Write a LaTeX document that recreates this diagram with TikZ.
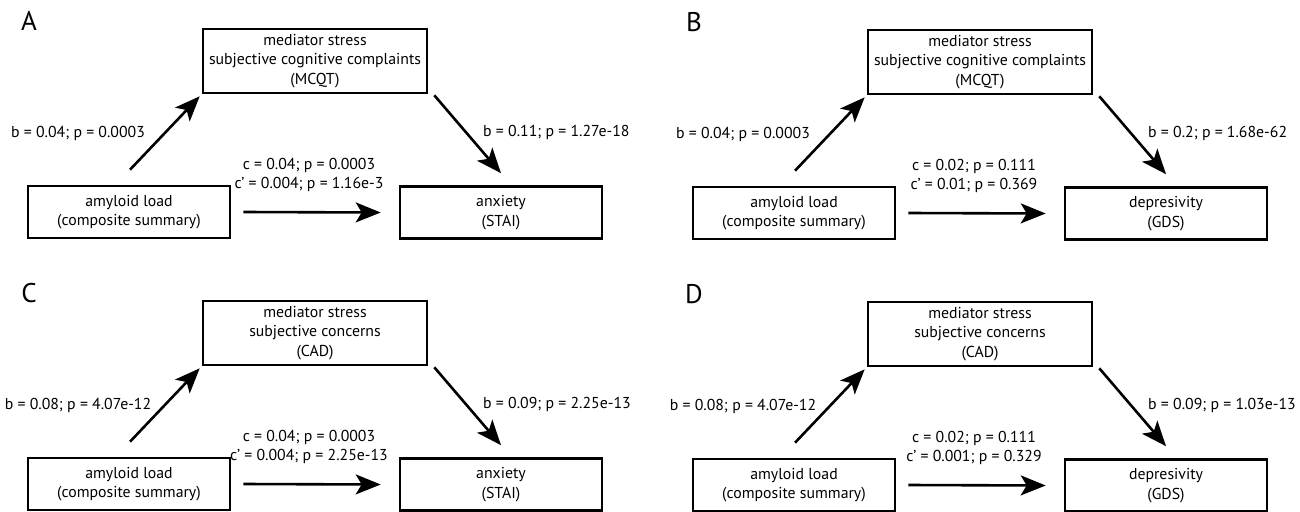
\documentclass[tikz,border=0pt]{standalone}
\usepackage{fontspec}
\setmainfont{PT Sans}
\usetikzlibrary{arrows.meta}
\begin{document}
\begin{tikzpicture}[x=1pt,y=-1pt,
  txt/.style={font=\fontsize{15.8}{19.5}\selectfont},
  box/.style={txt, draw, line width=2.6pt, align=center, inner sep=0pt},
  medbox/.style={box, minimum width=224pt, minimum height=64pt},
  sidebox/.style={box, minimum width=202pt, minimum height=52pt},
  lbl/.style={txt, inner sep=0pt},
  letter/.style={font=\fontsize{27}{27}\selectfont, inner sep=0pt},
  arr/.style={line width=2.6pt, -{Stealth[length=25pt,width=20pt,inset=6pt]}}]
\useasboundingbox (0,0) rectangle (1300,511);

% ---------------- Panel A ----------------
\begin{scope}
\node[letter] (aL) at (29,21) {A};
\node[medbox] (aM) at (315,61) {mediator stress\\subjective cognitive complaints\\(MCQT)};
\node[sidebox] (aX) at (129,212) {amyloid load\\(composite summary)};
\node[sidebox] (aY) at (501,212.5) {anxiety\\(STAI)};
\node[lbl, anchor=base] (ab1) at (78,137) {b = 0.04; p = 0.0003};
\node[lbl, anchor=base west] (ab2) at (483,136) {b = 0.11; p = 1.27e-18};
\node[lbl, anchor=base] (ac1) at (309,169.5) {c = 0.04; p = 0.0003};
\node[lbl, anchor=base] (ac2) at (309,188.5) {c’ = 0.004; p = 1.16e-3};
\draw[arr] ([shift={(1,-15)}]aX.north) -- ([shift={(-2,2)}]aM.south west);
\draw[arr] ([shift={(6,1)}]aM.south east) -- ([shift={(0,-12)}]aY.north);
\draw[arr] ([xshift=12pt]aX.east) -- ([xshift=-18pt]aY.west);
\end{scope}

% ---------------- Panel B ----------------
\begin{scope}[shift={(665,1)}]
\node[letter] (bL) at (29,21) {B};
\node[medbox] (bM) at (315,61) {mediator stress\\subjective cognitive complaints\\(MCQT)};
\node[sidebox] (bX) at (129,212) {amyloid load\\(composite summary)};
\node[sidebox] (bY) at (501,212.5) {depresivity\\(GDS)};
\node[lbl, anchor=base] (bb1) at (78,137) {b = 0.04; p = 0.0003};
\node[lbl, anchor=base west] (bb2) at (483,136) {b = 0.2; p = 1.68e-62};
\node[lbl, anchor=base] (bc1) at (309,169.5) {c = 0.02; p = 0.111};
\node[lbl, anchor=base] (bc2) at (309,188.5) {c’ = 0.01; p = 0.369};
\draw[arr] ([shift={(1,-15)}]bX.north) -- ([shift={(-2,2)}]bM.south west);
\draw[arr] ([shift={(6,1)}]bM.south east) -- ([shift={(0,-12)}]bY.north);
\draw[arr] ([xshift=12pt]bX.east) -- ([xshift=-18pt]bY.west);
\end{scope}

% ---------------- Panel C ----------------
\begin{scope}[shift={(0,272)}]
\node[letter] (cL) at (29,21) {C};
\node[medbox] (cM) at (315,61) {mediator stress\\subjective concerns\\(CAD)};
\node[sidebox] (cX) at (129,212) {amyloid load\\(composite summary)};
\node[sidebox] (cY) at (501,212.5) {anxiety\\(STAI)};
\node[lbl, anchor=base] (cb1) at (78,137) {b = 0.08; p = 4.07e-12};
\node[lbl, anchor=base west] (cb2) at (483,136) {b = 0.09; p = 2.25e-13};
\node[lbl, anchor=base] (cc1) at (309,169.5) {c = 0.04; p = 0.0003};
\node[lbl, anchor=base] (cc2) at (309,188.5) {c’ = 0.004; p = 2.25e-13};
\draw[arr] ([shift={(1,-15)}]cX.north) -- ([shift={(-2,2)}]cM.south west);
\draw[arr] ([shift={(6,1)}]cM.south east) -- ([shift={(0,-12)}]cY.north);
\draw[arr] ([xshift=12pt]cX.east) -- ([xshift=-18pt]cY.west);
\end{scope}

% ---------------- Panel D ----------------
\begin{scope}[shift={(665,273)}]
\node[letter] (dL) at (29,21) {D};
\node[medbox] (dM) at (315,61) {mediator stress\\subjective concerns\\(CAD)};
\node[sidebox] (dX) at (129,212) {amyloid load\\(composite summary)};
\node[sidebox] (dY) at (501,212.5) {depresivity\\(GDS)};
\node[lbl, anchor=base] (db1) at (78,137) {b = 0.08; p = 4.07e-12};
\node[lbl, anchor=base west] (db2) at (483,136) {b = 0.09; p = 1.03e-13};
\node[lbl, anchor=base] (dc1) at (309,169.5) {c = 0.02; p = 0.111};
\node[lbl, anchor=base] (dc2) at (309,188.5) {c’ = 0.001; p = 0.329};
\draw[arr] ([shift={(1,-15)}]dX.north) -- ([shift={(-2,2)}]dM.south west);
\draw[arr] ([shift={(6,1)}]dM.south east) -- ([shift={(0,-12)}]dY.north);
\draw[arr] ([xshift=12pt]dX.east) -- ([xshift=-18pt]dY.west);
\end{scope}
\end{tikzpicture}
\end{document}
